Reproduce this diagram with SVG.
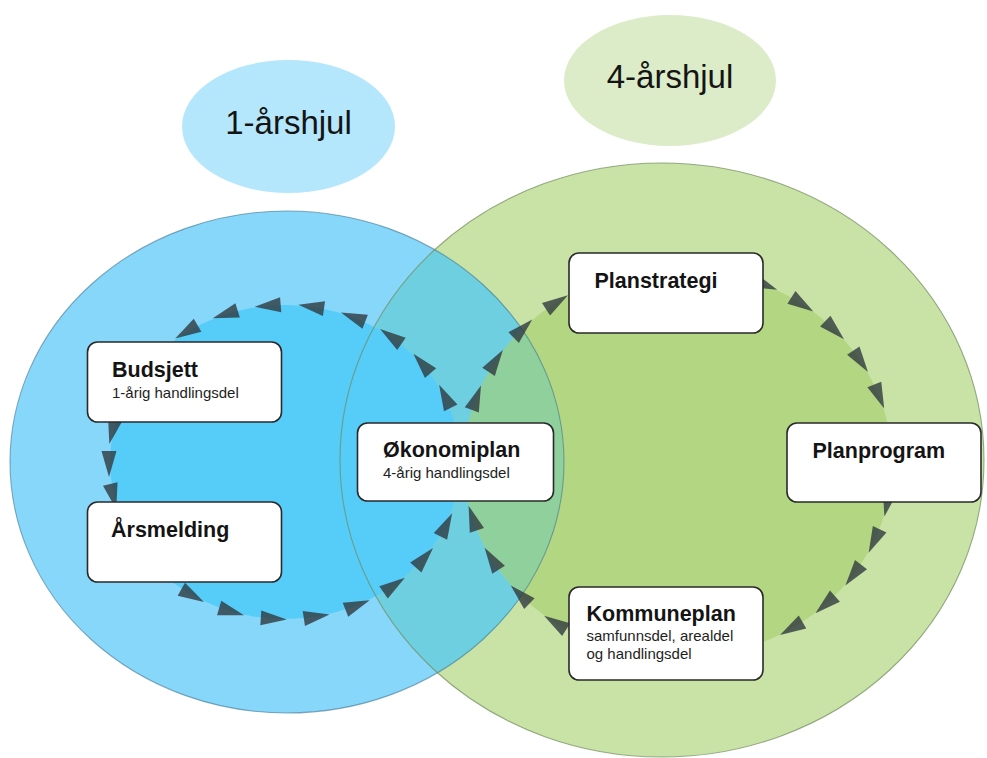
<svg xmlns="http://www.w3.org/2000/svg" xmlns:xlink="http://www.w3.org/1999/xlink" width="987" height="758" viewBox="0 0 987 758">
<style>
.box{fill:#ffffff;stroke:#2a2a2a;stroke-width:1.6}
.title{font-family:"Liberation Sans",Arial,sans-serif;font-weight:bold;font-size:21.5px;fill:#141414}
.sub{font-family:"Liberation Sans",Arial,sans-serif;font-size:15px;fill:#1e1e1e}
.wheel{font-family:"Liberation Sans",Arial,sans-serif;font-size:33px;fill:#141414;text-anchor:middle}
.outline{fill:none;stroke-width:1.1}
</style>
<defs>
<clipPath id="clipGreen"><ellipse cx="662" cy="460" rx="322" ry="297"/></clipPath>
<clipPath id="clipBlue"><ellipse cx="287" cy="462" rx="277" ry="251"/></clipPath>
<path id="tri" d="M15,0 L-11,-7.5 L-11,7.5 Z"/>
</defs>
<rect width="987" height="758" fill="#ffffff"/>
<g id="wheels">
<ellipse cx="287" cy="462" rx="277" ry="251" fill="#87d7fb"/>
<ellipse cx="662" cy="460" rx="322" ry="297" fill="#c9e3a6"/>
<ellipse cx="287" cy="462" rx="277" ry="251" fill="#6dcfe0" clip-path="url(#clipGreen)"/>
<ellipse cx="285" cy="462" rx="175" ry="157" fill="#56ccf9"/>
<ellipse cx="678" cy="463" rx="214" ry="195" fill="#b3d682"/>
<ellipse cx="678" cy="463" rx="214" ry="195" fill="#90d09c" clip-path="url(#clipBlue)"/>
<ellipse class="outline" cx="287" cy="462" rx="277" ry="251" stroke="#3f7590" stroke-opacity="0.6"/>
<ellipse class="outline" cx="662" cy="460" rx="322" ry="297" stroke="#6f8a5c" stroke-opacity="0.7"/>
</g>
<g id="connectors" fill="#2f3a3f" fill-opacity="0.8">
<use xlink:href="#tri" transform="translate(445.8,398.1) rotate(-116.5)"/>
<use xlink:href="#tri" transform="translate(423.3,364.9) rotate(-131.4)"/>
<use xlink:href="#tri" transform="translate(392.4,337.6) rotate(-145.5)"/>
<use xlink:href="#tri" transform="translate(354.9,317.9) rotate(-158.9)"/>
<use xlink:href="#tri" transform="translate(313.1,307.0) rotate(-171.8)"/>
<use xlink:href="#tri" transform="translate(269.7,305.6) rotate(175.5)"/>
<use xlink:href="#tri" transform="translate(227.1,313.7) rotate(162.8)"/>
<use xlink:href="#tri" transform="translate(188.1,330.9) rotate(149.5)"/>
<use xlink:href="#tri" transform="translate(112.8,429.4) rotate(103.4)"/>
<use xlink:href="#tri" transform="translate(109,462) rotate(90)"/>
<use xlink:href="#tri" transform="translate(112.8,494.6) rotate(76.6)"/>
<use xlink:href="#tri" transform="translate(190.9,594.7) rotate(29.4)"/>
<use xlink:href="#tri" transform="translate(229.7,611.1) rotate(16.4)"/>
<use xlink:href="#tri" transform="translate(271.8,618.6) rotate(3.8)"/>
<use xlink:href="#tri" transform="translate(314.7,616.8) rotate(-8.7)"/>
<use xlink:href="#tri" transform="translate(355.7,605.8) rotate(-21.4)"/>
<use xlink:href="#tri" transform="translate(392.6,586.2) rotate(-34.6)"/>
<use xlink:href="#tri" transform="translate(423.1,559.3) rotate(-48.5)"/>
<use xlink:href="#tri" transform="translate(445.4,526.6) rotate(-63.2)"/>
<use xlink:href="#tri" transform="translate(475.7,399.5) rotate(-69.3)"/>
<use xlink:href="#tri" transform="translate(494.6,362.6) rotate(-56.6)"/>
<use xlink:href="#tri" transform="translate(521.5,330.0) rotate(-44.3)"/>
<use xlink:href="#tri" transform="translate(555.3,303.3) rotate(-32.6)"/>
<use xlink:href="#tri" transform="translate(763.3,284.2) rotate(21.6)"/>
<use xlink:href="#tri" transform="translate(800.7,303.3) rotate(32.6)"/>
<use xlink:href="#tri" transform="translate(833.2,328.8) rotate(43.8)"/>
<use xlink:href="#tri" transform="translate(859.5,359.7) rotate(55.6)"/>
<use xlink:href="#tri" transform="translate(878.5,394.7) rotate(67.7)"/>
<use xlink:href="#tri" transform="translate(887.7,501.9) rotate(102.6)"/>
<use xlink:href="#tri" transform="translate(875.0,539.2) rotate(115.0)"/>
<use xlink:href="#tri" transform="translate(854.4,573.4) rotate(127.0)"/>
<use xlink:href="#tri" transform="translate(826.7,603.3) rotate(138.6)"/>
<use xlink:href="#tri" transform="translate(793.0,627.5) rotate(149.9)"/>
<use xlink:href="#tri" transform="translate(556.8,623.7) rotate(-147.9)"/>
<use xlink:href="#tri" transform="translate(521.5,596.0) rotate(-135.7)"/>
<use xlink:href="#tri" transform="translate(492.7,560.5) rotate(-122.4)"/>
<use xlink:href="#tri" transform="translate(473.4,520.0) rotate(-108.6)"/>
</g>
<g id="wheel-1">
<ellipse cx="288.5" cy="126.5" rx="106.5" ry="66.5" fill="#b5e7fc"/>
<text class="wheel" x="288.5" y="134">1-årshjul</text>
</g>
<g id="wheel-4">
<ellipse cx="670" cy="80.5" rx="106" ry="65.5" fill="#dcecc8"/>
<text class="wheel" x="670" y="88">4-årshjul</text>
</g>
<g id="budsjett">
<rect class="box" x="87.5" y="342" width="194" height="80" rx="10"/>
<text class="title" x="112" y="377">Budsjett</text>
<text class="sub" x="112" y="398">1-årig handlingsdel</text>
</g>
<g id="arsmelding">
<rect class="box" x="87.5" y="502" width="194" height="80" rx="10"/>
<text class="title" x="111" y="537">Årsmelding</text>
</g>
<g id="okonomiplan">
<rect class="box" x="357.5" y="423" width="196" height="78" rx="10"/>
<text class="title" x="383" y="457">Økonomiplan</text>
<text class="sub" x="383" y="478">4-årig handlingsdel</text>
</g>
<g id="planstrategi">
<rect class="box" x="569" y="253" width="194" height="80" rx="10"/>
<text class="title" x="594.5" y="288">Planstrategi</text>
</g>
<g id="planprogram">
<rect class="box" x="787" y="423" width="194" height="79" rx="10"/>
<text class="title" x="812.5" y="458">Planprogram</text>
</g>
<g id="kommuneplan">
<rect class="box" x="569" y="587" width="194" height="93" rx="10"/>
<text class="title" x="586.5" y="621">Kommuneplan</text>
<text class="sub" x="586.5" y="641">samfunnsdel, arealdel</text>
<text class="sub" x="586.5" y="659">og handlingsdel</text>
</g>
</svg>
